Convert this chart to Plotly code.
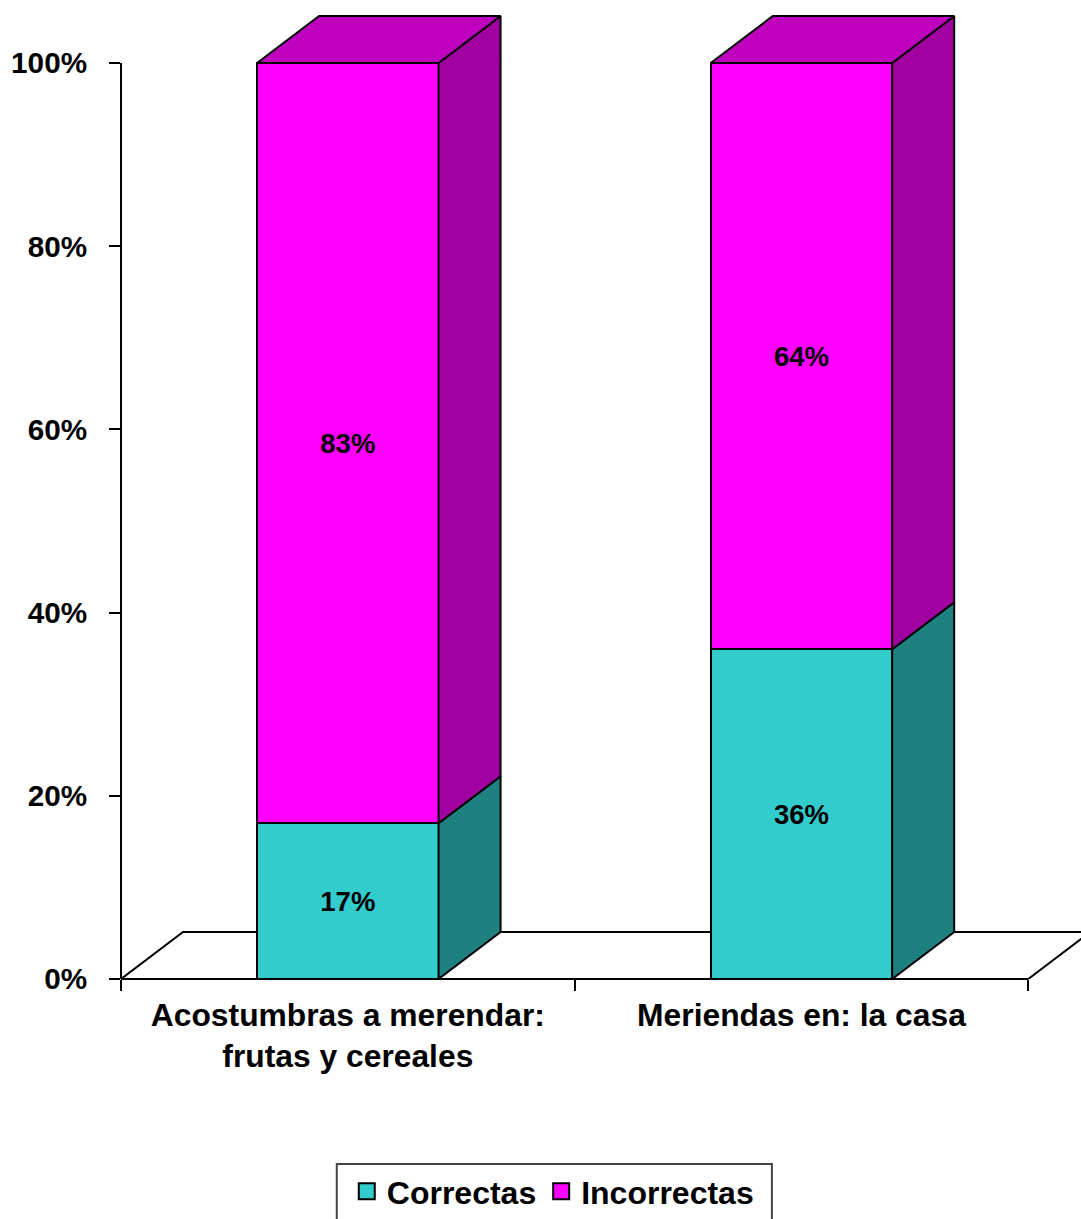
import plotly.graph_objects as go

categories = ["Acostumbras a merendar:<br>frutas y cereales", "Meriendas en: la casa"]
correctas = [17, 36]
incorrectas = [83, 64]
y_ticks = [0, 20, 40, 60, 80, 100]
y_labels = ["0%", "20%", "40%", "60%", "80%", "100%"]

# geometry (pixels -> axis units)
W, H = 1081, 1219
L, R0, B, T = 121.3, 1028.3, 979, 63
ux = (R0 - L) / 2
uy = (B - T) / 100
DX = 62 / ux
DY = 47 / uy
BAR = 0.4
TOP_PX = 15
FONT = "Liberation Sans"
TEAL, TEAL_S = "#33CCCC", "#1F8080"
MAG, MAG_S, MAG_T = "#FF00FF", "#A0009F", "#C000BF"


def px(v):
    return (v - L) / (W - L)


def py(v):
    return (B - v) / (B - TOP_PX)


fig = go.Figure()


def poly(xs, ys, fill, lw=2):
    fig.add_trace(go.Scatter(x=xs, y=ys, mode="lines", fill="toself", fillcolor=fill,
                             line=dict(color="#000000", width=lw), showlegend=False,
                             hoverinfo="skip", cliponaxis=True))


xc = [0.5, 1.5]
# 3D side and top faces
for c, a, b in zip(xc, correctas, incorrectas):
    xr = c + BAR / 2
    xl = c - BAR / 2
    poly([xr, xr + DX, xr + DX, xr, xr], [0, DY, a + DY, a, 0], TEAL_S)
    poly([xr, xr + DX, xr + DX, xr, xr], [a, a + DY, a + b + DY, a + b, a], MAG_S)
    poly([xl, xr, xr + DX, xl + DX, xl], [a + b, a + b, a + b + DY, a + b + DY, a + b], MAG_T)

common = dict(x=xc, width=BAR, textposition="inside", insidetextanchor="middle",
              textangle=0, cliponaxis=False, showlegend=False,
              textfont=dict(family=FONT, size=27.5, color="#000000"),
              hoverinfo="skip")
fig.add_trace(go.Bar(y=correctas, name="Correctas", marker=dict(color=TEAL, line=dict(color="#000", width=2)),
                     text=[f"<b>{v}%</b>" for v in correctas], **common))
fig.add_trace(go.Bar(y=incorrectas, name="Incorrectas", marker=dict(color=MAG, line=dict(color="#000", width=2)),
                     text=[f"<b>{v}%</b>" for v in incorrectas], **common))

# legend entries
for name, col in (("<b>Correctas</b>", TEAL), ("<b>Incorrectas</b>", MAG)):
    fig.add_trace(go.Scatter(x=[None], y=[None], mode="markers", name=name,
                             marker=dict(symbol="square", size=16, color=col, line=dict(color="#000", width=2))))

x_span = (W - L) / ux
y_span = (B - TOP_PX) / uy
shapes = [
    # floor
    dict(type="path", layer="below", xref="x", yref="y",
         path=f"M0,0 L{DX},{DY} L{2 + DX},{DY} L2,0 Z",
         fillcolor="#FFFFFF", line=dict(color="#000", width=2)),
    # axis lines, only over the real extent of the scale
    dict(type="line", xref="paper", yref="paper", x0=0, x1=0, y0=0, y1=y_ticks[-1] / y_span,
         line=dict(color="#000", width=2)),
    dict(type="line", xref="paper", yref="paper", x0=0, x1=len(categories) / x_span, y0=0, y1=0,
         line=dict(color="#000", width=2)),
    # legend frame, running off the bottom of the page
    dict(type="rect", xref="paper", yref="paper", x0=px(337), x1=px(772), y0=py(1240), y1=py(1164),
         line=dict(color="#444", width=2), fillcolor="rgba(0,0,0,0)"),
]

fig.update_layout(
    width=W, height=H, barmode="stack", plot_bgcolor="#FFFFFF", paper_bgcolor="#FFFFFF",
    margin=dict(l=L, r=0, t=TOP_PX, b=H - B, pad=0),
    font=dict(family=FONT, color="#000"),
    shapes=shapes,
    xaxis=dict(range=[0, x_span], tickmode="array", tickvals=xc, ticktext=[f"<b>{c}</b>" for c in categories],
               ticks="", showgrid=False, zeroline=False, showline=False,
               tickfont=dict(size=31.8, family=FONT), ticklabelstandoff=14,
               minor=dict(tickmode="array", tickvals=[0, 1, 2], ticks="outside", ticklen=11, tickwidth=1.5, tickcolor="#000", showgrid=False)),
    yaxis=dict(range=[0, y_span], tickmode="array", tickvals=y_ticks, ticktext=[f"<b>{t}</b>" for t in y_labels],
               ticks="outside", ticklen=11, tickwidth=2, tickcolor="#000", showgrid=False, zeroline=False,
               showline=False, tickfont=dict(size=29.7, family=FONT), ticklabelstandoff=16),
    legend=dict(orientation="h", x=px(347), xanchor="left", y=1 - 1164 / H, yref="container", yanchor="top",
                borderwidth=0, bgcolor="rgba(0,0,0,0)", font=dict(size=32, family=FONT),
                traceorder="normal"),
)
fig.write_html("out.html", post_script="document.body.style.margin='0';", config={"displayModeBar": False})
